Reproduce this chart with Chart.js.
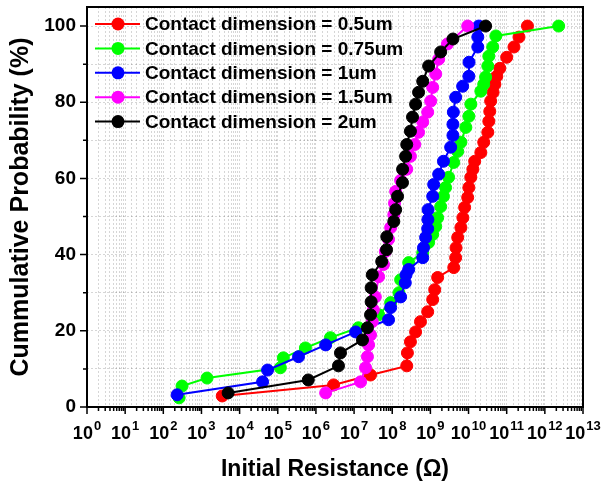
<!DOCTYPE html>
<html>
<head>
<meta charset="utf-8">
<script src="https://cdn.jsdelivr.net/npm/chart.js@4.4.0/dist/chart.umd.min.js"></script>
<style>
  html, body { margin: 0; padding: 0; background: #fff; }
</style>
</head>
<body>
<canvas id="chart" width="604" height="483"></canvas>
<script>
// series labels and colours
const seriesLabels = [
  'Contact dimension = 0.5um',
  'Contact dimension = 0.75um',
  'Contact dimension = 1um',
  'Contact dimension = 1.5um',
  'Contact dimension = 2um'
];
const seriesColors = ['#ff0000', '#00ff00', '#0000ff', '#ff00ff', '#000000'];

// initial resistance (ohm) and cumulative probability (%) per series
const res05 = [3.5e3, 2.9e6, 2.7e7, 2.4e8, 2.5e8, 3.0e8, 4.1e8, 5.5e8, 8.5e8, 1.15e9, 1.3e9, 1.55e9,
  4.1e9, 4.6e9, 4.7e9, 5.2e9, 6.3e9, 7.1e9, 7.9e9, 9.5e9, 1.02e10, 1.15e10, 1.3e10, 1.45e10,
  2.1e10, 2.5e10, 3.2e10, 3.4e10, 3.6e10, 3.8e10, 4.4e10, 4.9e10, 5.5e10, 6.6e10, 1.0e11, 1.55e11, 2.1e11, 3.5e11];
const prob05 = [2.9, 5.8, 8.4, 10.8, 14.2, 17.1, 19.7, 22.4, 25.0, 28.2, 30.8, 34.0,
  36.6, 39.2, 41.8, 44.5, 47.1, 49.7, 52.4, 55.0, 57.6, 60.3, 62.4, 64.5,
  66.8, 69.5, 72.1, 75.0, 77.6, 80.3, 82.6, 84.7, 86.8, 88.9, 91.8, 94.5, 97.1, 100];

const res075 = [2.6e2, 3.1e2, 1.4e3, 1.17e5, 1.4e5, 5.3e5, 2.4e6, 1.3e7, 4.4e7, 9.1e7, 1.5e8, 1.66e8,
  2.7e8, 6.3e8, 9.0e8, 1.15e9, 1.38e9, 1.55e9, 1.86e9, 2.2e9, 2.5e9, 3.0e9, 4.1e9, 5.2e9,
  6.3e9, 8.5e9, 1.02e10, 1.15e10, 2.1e10, 2.5e10, 2.8e10, 3.2e10, 3.4e10, 4.3e10, 5.2e10, 2.3e12];
const prob075 = [2.4, 5.5, 7.6, 10.3, 12.9, 15.5, 18.2, 20.8, 24.2, 27.4, 30.0, 33.4,
  37.9, 40.5, 43.2, 45.3, 47.4, 49.7, 52.6, 55.3, 57.6, 60.3, 64.2, 67.1,
  69.5, 73.4, 76.3, 79.5, 82.9, 84.7, 86.6, 89.5, 92.1, 94.5, 97.4, 100];

const res1 = [2.3e2, 4.0e4, 5.4e4, 3.5e5, 1.8e6, 1.1e7, 8.0e7, 9.1e7, 1.66e8, 2.2e8, 2.3e8, 2.7e8,
  6.3e8, 6.6e8, 7.5e8, 8.5e8, 8.6e8, 8.7e8, 1.15e9, 1.22e9, 1.65e9, 2.2e9, 3.4e9, 3.9e9,
  3.9e9, 4.0e9, 4.6e9, 7.0e9, 1.02e10, 1.03e10, 1.75e10, 1.75e10, 1.85e10];
const prob1 = [3.2, 6.6, 9.7, 13.2, 16.3, 19.7, 22.9, 26.1, 28.9, 32.6, 34.7, 36.1,
  39.2, 41.8, 44.5, 46.8, 49.2, 51.8, 55.3, 58.4, 61.1, 64.5, 68.2, 71.3,
  74.2, 77.4, 81.3, 84.2, 86.8, 90.5, 94.5, 97.1, 100];

const res15 = [1.8e6, 1.48e7, 2.0e7, 2.24e7, 2.4e7, 2.7e7, 3.0e7, 3.2e7, 3.6e7, 4.4e7, 5.9e7, 6.6e7,
  8.0e7, 9.1e7, 1.1e8, 1.15e8, 1.23e8, 1.66e8, 2.4e8, 3.0e8, 3.9e8, 4.9e8, 6.3e8, 8.5e8,
  1.02e9, 1.15e9, 1.38e9, 1.65e9, 2.8e9, 9.5e9];
const prob15 = [3.7, 6.6, 10.3, 13.2, 16.3, 18.9, 22.4, 25.5, 28.9, 34.2, 37.4, 40.8,
  44.0, 47.1, 50.5, 53.5, 56.6, 59.5, 62.4, 65.8, 68.9, 72.1, 74.8, 77.4,
  80.3, 83.9, 87.4, 91.3, 95.3, 100];

const res2 = [5.0e3, 6.3e5, 3.9e6, 4.4e6, 1.66e7, 2.24e7, 2.7e7, 2.8e7, 2.8e7, 3.0e7, 5.3e7, 7.1e7,
  7.2e7, 1.1e8, 1.23e8, 1.38e8, 1.86e8, 1.87e8, 2.24e8, 2.4e8, 3.0e8, 3.4e8, 4.1e8, 4.9e8,
  6.3e8, 9.0e8, 1.86e9, 3.9e9, 2.8e10];
const prob2 = [3.7, 7.1, 10.8, 14.2, 17.6, 20.8, 24.2, 27.6, 31.3, 34.7, 38.2, 41.3,
  44.7, 48.7, 51.8, 55.3, 58.9, 62.4, 65.8, 68.9, 72.4, 76.1, 79.5, 82.6,
  85.5, 89.5, 93.2, 96.6, 100];

const seriesRes = [res05, res075, res1, res15, res2];
const seriesProb = [prob05, prob075, prob1, prob15, prob2];

// axis ticks
const xDecades = [0, 1, 2, 3, 4, 5, 6, 7, 8, 9, 10, 11, 12, 13];
const yMajorTicks = [0, 20, 40, 60, 80, 100];
const yMinorTicks = [10, 30, 50, 70, 90];

const FONT = 'Arial, "Liberation Sans", sans-serif';

const datasets = seriesLabels.map((label, i) => ({
  label,
  data: seriesRes[i].map((r, j) => ({ x: r, y: seriesProb[i][j] })),
  borderColor: seriesColors[i],
  backgroundColor: seriesColors[i],
  pointBackgroundColor: seriesColors[i],
  pointBorderColor: seriesColors[i],
  borderWidth: 2,
  pointRadius: 6,
  pointBorderWidth: 1,
  tension: 0,
  order: seriesLabels.length - 1 - i,
}));

// frame, tick marks, superscript x labels, inset legend
const decorations = {
  id: 'decorations',
  afterDraw(chart) {
    const ctx = chart.ctx;
    const { left, right, top, bottom } = chart.chartArea;
    const xs = chart.scales.x;
    const ys = chart.scales.y;
    ctx.save();
    ctx.strokeStyle = '#000';
    ctx.lineWidth = 2;
    ctx.strokeRect(left, top, right - left, bottom - top);

    ctx.lineWidth = 1.5;
    ctx.beginPath();
    xDecades.forEach(d => {
      for (let m = 1; m <= 9; m++) {
        if (d === 13 && m > 1) break;
        const px = xs.getPixelForValue(m * Math.pow(10, d));
        const len = m === 1 ? 7 : 4;
        ctx.moveTo(px, bottom);
        ctx.lineTo(px, bottom + len);
      }
    });
    yMajorTicks.forEach(v => {
      const py = ys.getPixelForValue(v);
      ctx.moveTo(left, py);
      ctx.lineTo(left - 7, py);
    });
    yMinorTicks.forEach(v => {
      const py = ys.getPixelForValue(v);
      ctx.moveTo(left, py);
      ctx.lineTo(left - 4, py);
    });
    ctx.stroke();

    // x tick labels 10^n
    ctx.fillStyle = '#000';
    ctx.textBaseline = 'alphabetic';
    ctx.textAlign = 'left';
    xDecades.forEach(d => {
      const px = xs.getPixelForValue(Math.pow(10, d));
      ctx.font = 'bold 18px ' + FONT;
      const wb = ctx.measureText('10').width;
      ctx.font = 'bold 13px ' + FONT;
      const we = ctx.measureText(String(d)).width;
      const x0 = px - (wb + we + 1) / 2;
      ctx.font = 'bold 18px ' + FONT;
      ctx.fillText('10', x0, 439);
      ctx.font = 'bold 13px ' + FONT;
      ctx.fillText(String(d), x0 + wb + 1, 430);
    });

    // legend inside the plot
    ctx.font = 'bold 19px ' + FONT;
    ctx.textBaseline = 'middle';
    seriesLabels.forEach((label, i) => {
      const y = 24 + i * 24.4;
      ctx.strokeStyle = seriesColors[i];
      ctx.fillStyle = seriesColors[i];
      ctx.lineWidth = 2;
      ctx.beginPath();
      ctx.moveTo(95, y);
      ctx.lineTo(140, y);
      ctx.stroke();
      ctx.beginPath();
      ctx.arc(118, y, 6.5, 0, Math.PI * 2);
      ctx.fill();
      ctx.fillStyle = '#000';
      ctx.fillText(label, 145, y + 1);
    });
    ctx.restore();
  }
};

new Chart(document.getElementById('chart'), {
  type: 'line',
  data: { datasets },
  options: {
    responsive: false,
    animation: false,
    layout: { padding: { left: 0, right: 21, top: 7, bottom: 0 } },
    plugins: {
      legend: { display: false },
      tooltip: { enabled: false }
    },
    scales: {
      x: {
        type: 'logarithmic',
        min: 1,
        max: 1e13,
        afterFit: s => { s.height = 76; s.paddingLeft = 0; s.paddingRight = 0; },
        grid: {
          color: 'rgba(0,0,0,0.16)',
          lineWidth: 1,
          drawTicks: false,
        },
        border: { display: false, dash: [2, 2] },
        ticks: { display: false, autoSkip: false, callback: () => '' },
        title: {
          display: true,
          text: 'Initial Resistance (Ω)',
          color: '#000',
          font: { family: FONT, size: 23, weight: 'bold' },
          padding: { top: 0, bottom: 0 }
        }
      },
      y: {
        min: 0,
        max: 105,
        afterFit: s => { s.width = 87; s.paddingTop = 0; s.paddingBottom = 0; },
        grid: {
          color: 'rgba(0,0,0,0.16)',
          lineWidth: 1,
          drawTicks: false,
        },
        border: { display: false, dash: [2, 2] },
        ticks: {
          stepSize: 10,
          includeBounds: false,
          padding: 11,
          color: '#000',
          font: { family: FONT, size: 19, weight: 'bold' },
          callback: v => (yMajorTicks.includes(v) ? String(v) : '')
        },
        title: {
          display: true,
          text: 'Cummulative Probability (%)',
          color: '#000',
          font: { family: FONT, size: 25, weight: 'bold' },
          padding: { top: 6, bottom: 0 }
        }
      }
    }
  },
  plugins: [decorations]
});
</script>
</body>
</html>
